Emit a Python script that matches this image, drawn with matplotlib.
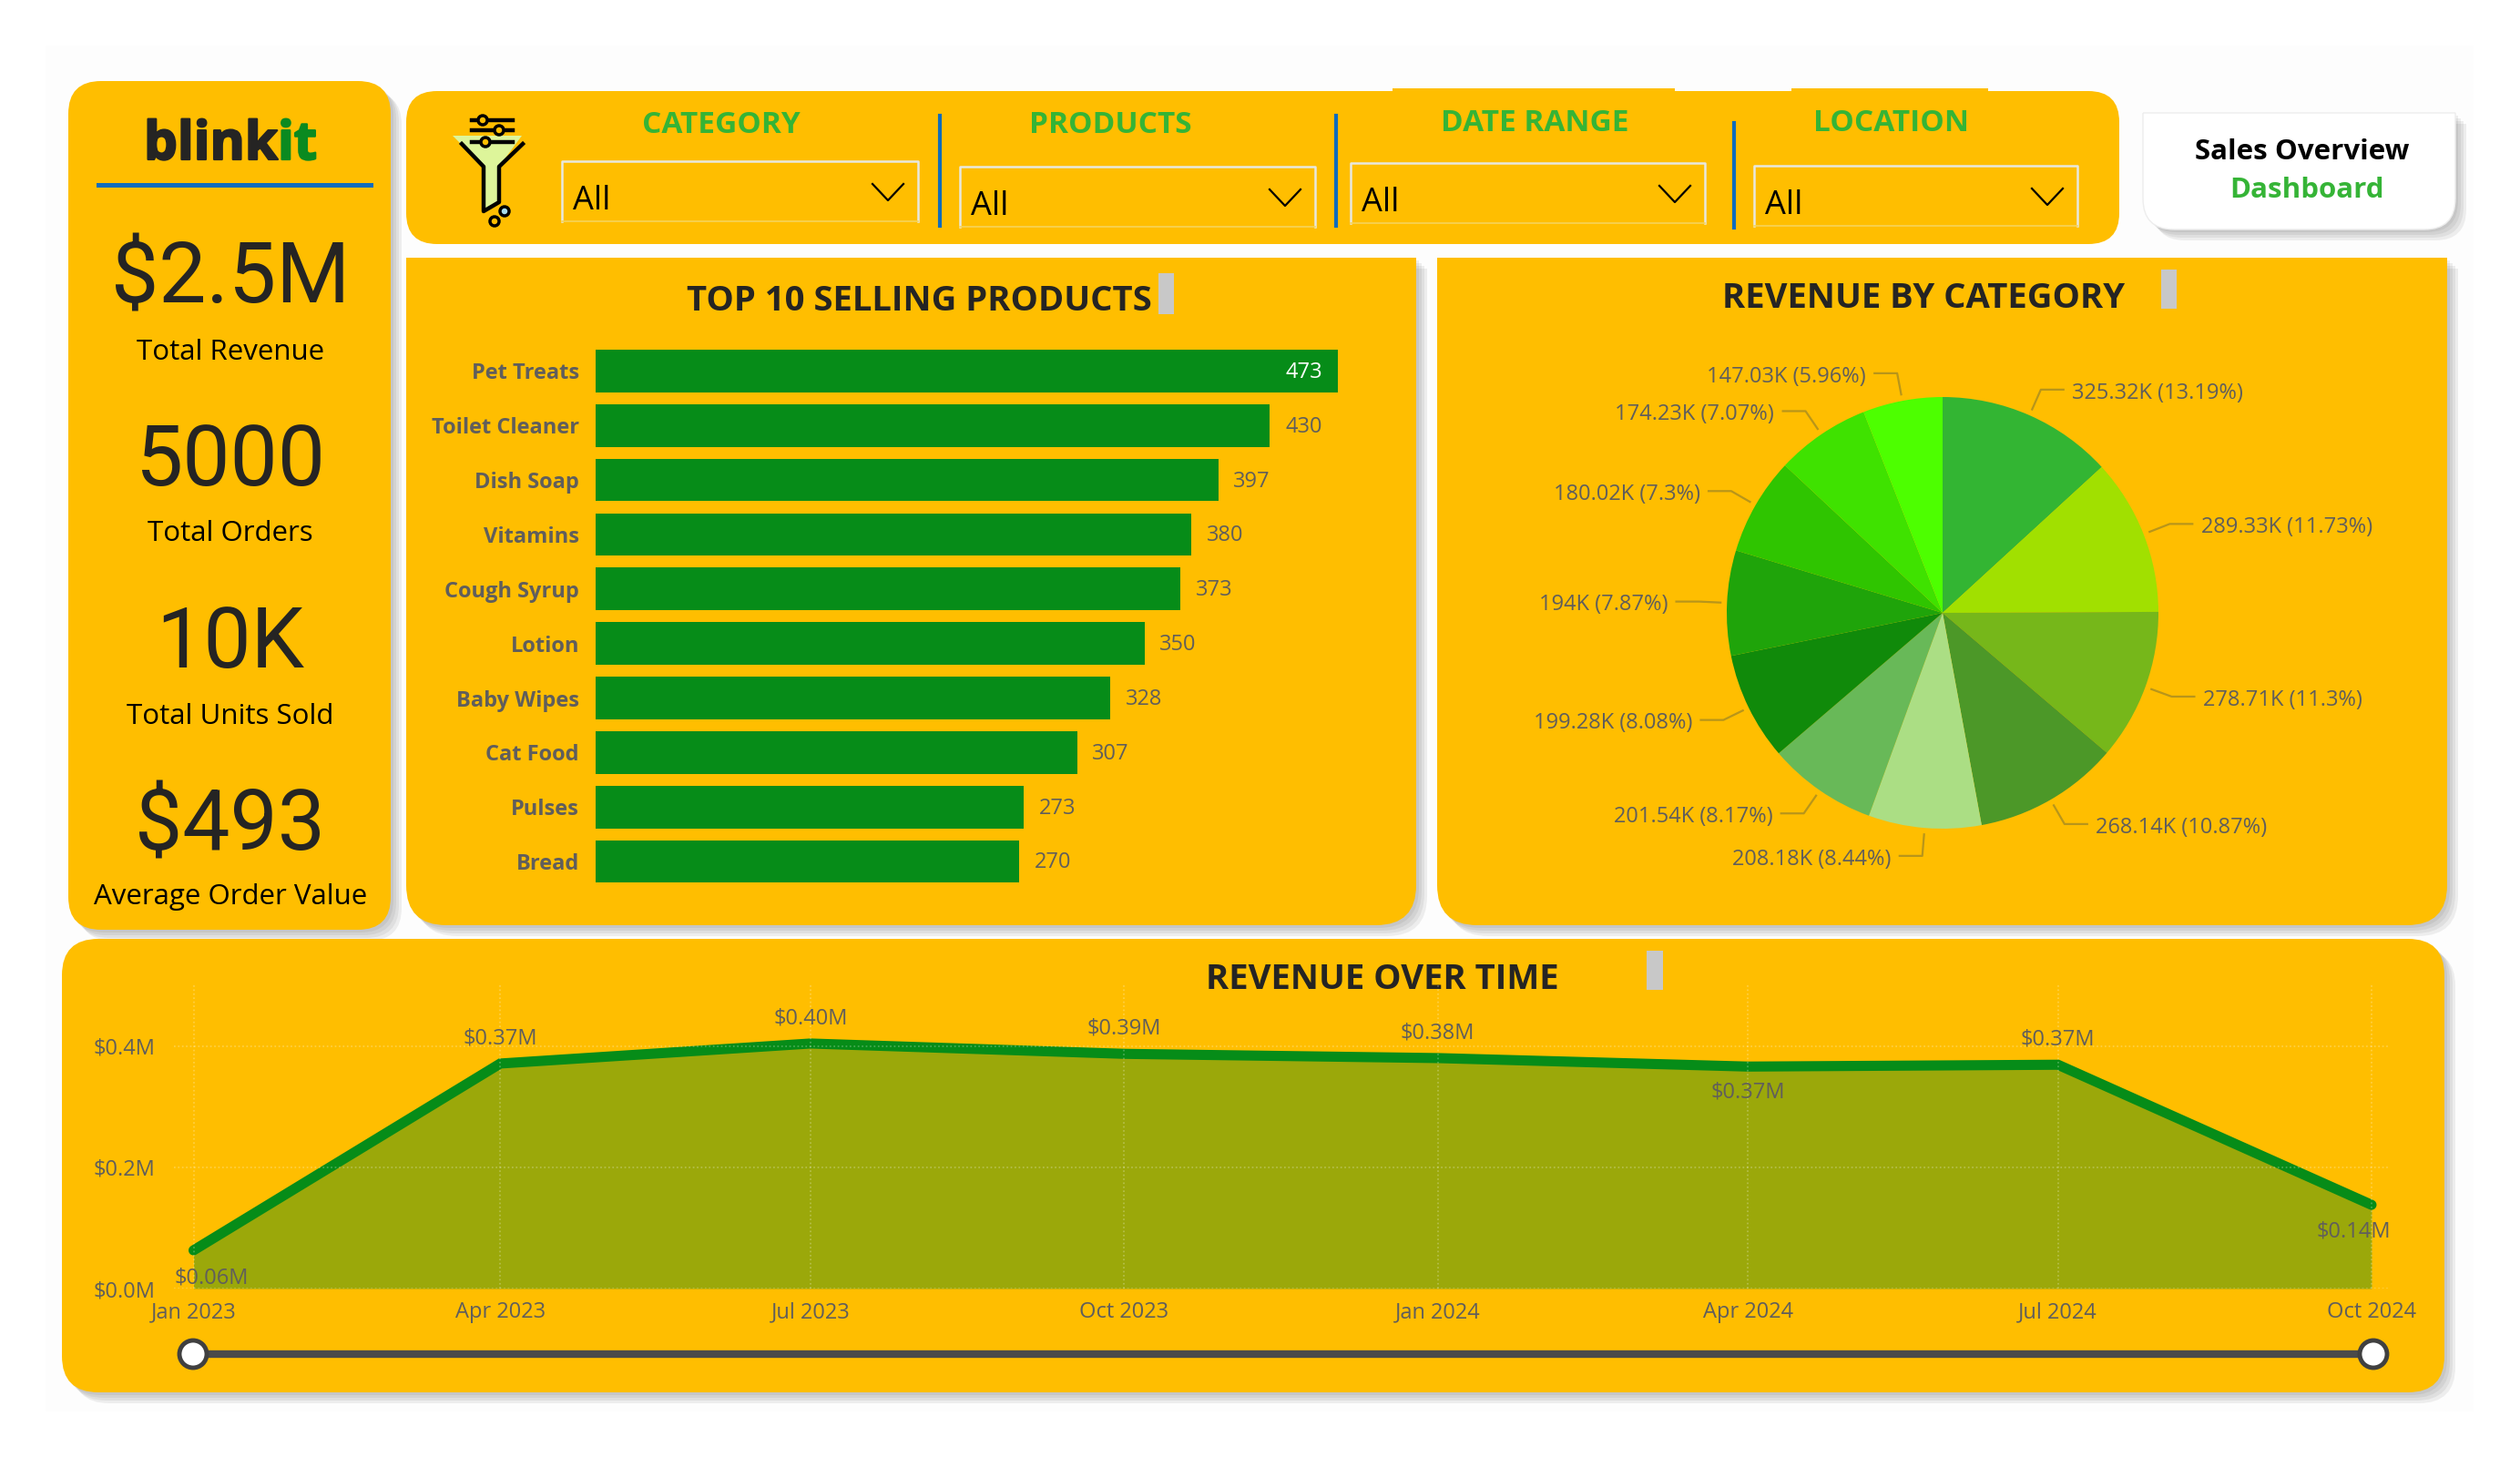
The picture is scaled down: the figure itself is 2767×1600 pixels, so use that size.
import numpy as np
import pandas as pd
import matplotlib
matplotlib.use('Agg')
import matplotlib.pyplot as plt
import matplotlib.dates as mdates
import matplotlib.patheffects as pe
from matplotlib.patches import PathPatch, Rectangle, Polygon, Circle
from matplotlib.path import Path

W, H = 2767, 1600

# chart data
products = ['Pet Treats', 'Toilet Cleaner', 'Dish Soap', 'Vitamins', 'Cough Syrup',
            'Lotion', 'Baby Wipes', 'Cat Food', 'Pulses', 'Bread']
units_sold = [473, 430, 397, 380, 373, 350, 328, 307, 273, 270]

cat_revenue = [325.32, 289.33, 278.71, 268.14, 208.18, 201.54, 199.28, 194, 180.02, 174.23, 147.03]
cat_share = [13.19, 11.73, 11.3, 10.87, 8.44, 8.17, 8.08, 7.87, 7.3, 7.07, 5.96]
cat_colors = ['#33B533', '#A1E000', '#76B71A', '#4C9828', '#ABDE84', '#68B958',
              '#108A0A', '#1FA40A', '#2FC500', '#3FE200', '#4DFF00']

quarters = ['2023-01-01', '2023-04-01', '2023-07-01', '2023-10-01',
            '2024-01-01', '2024-04-01', '2024-07-01', '2024-10-01']
quarter_labels = ['Jan 2023', 'Apr 2023', 'Jul 2023', 'Oct 2023',
                  'Jan 2024', 'Apr 2024', 'Jul 2024', 'Oct 2024']
revenue_m = [0.063, 0.371, 0.404, 0.387, 0.380, 0.366, 0.369, 0.138]
revenue_labels = ['$0.06M', '$0.37M', '$0.40M', '$0.39M', '$0.38M', '$0.37M', '$0.37M', '$0.14M']

kpi_values = ['$2.5M', '5000', '10K', '$493']
kpi_names = ['Total Revenue', 'Total Orders', 'Total Units Sold', 'Average Order Value']
filter_names = ['CATEGORY', 'PRODUCTS', 'DATE RANGE', 'LOCATION']

YELLOW = '#FFBE00'
GREEN = '#068C18'
LIME = '#35B436'
DARK = '#252423'
GREY = '#605E5C'
BLUE = '#0F6CBD'

plt.rcParams['font.family'] = ['Open Sans', 'DejaVu Sans']
fig = plt.figure(figsize=(W / 100, H / 100), dpi=100, facecolor='white')


def px_axes(x0, y0, x1, y1):
    ax = fig.add_axes([x0 / W, 1 - y1 / H, (x1 - x0) / W, (y1 - y0) / H])
    ax.patch.set_alpha(0)
    return ax


def round_box(x0, y0, x1, y1, tl, tr, br, bl):
    verts = [(x0 + tl, y0), (x1 - tr, y0), (x1, y0), (x1, y0 + tr), (x1, y1 - br), (x1, y1),
             (x1 - br, y1), (x0 + bl, y1), (x0, y1), (x0, y1 - bl), (x0, y0 + tl), (x0, y0), (x0 + tl, y0)]
    codes = [Path.MOVETO, Path.LINETO, Path.CURVE3, Path.CURVE3, Path.LINETO, Path.CURVE3, Path.CURVE3,
             Path.LINETO, Path.CURVE3, Path.CURVE3, Path.LINETO, Path.CURVE3, Path.CURVE3]
    return Path(verts, codes)


def panel(x0, y0, x1, y1, radii, color=YELLOW, shadow=True, edge='none'):
    if shadow:
        for d in [12, 9, 6, 3]:
            bg.add_patch(PathPatch(round_box(x0 + d, y0 + d, x1 + d, y1 + d, *radii), fc='#555555',
                                   ec='none', alpha=0.09))
    bg.add_patch(PathPatch(round_box(x0, y0, x1, y1, *radii), fc=color, ec=edge, lw=1))


bg = fig.add_axes([0, 0, 1, 1])
bg.set_xlim(0, W)
bg.set_ylim(H, 0)
bg.axis('off')
bg.add_patch(Rectangle((50, 50), 2666, 1500, fc='#FDFDFD', ec='none'))

# panels
panel(75, 89, 429, 1021, (36, 36, 36, 36))
panel(446, 100, 2327, 268, (34, 34, 34, 34), shadow=False)
bg.add_patch(Rectangle((1529, 97), 310, 5, fc=YELLOW, ec='none'))
bg.add_patch(Rectangle((1967, 97), 216, 5, fc=YELLOW, ec='none'))
panel(446, 283, 1555, 1016, (0, 0, 44, 44))
panel(1578, 283, 2687, 1016, (0, 0, 44, 44))
panel(2353, 124, 2696, 252, (0, 0, 34, 34), color='white', edge='#EDEDED')
panel(68, 1031, 2684, 1529, (40, 40, 40, 40))

# logo and kpi column
logo_fx = [pe.withStroke(linewidth=1.6, foreground=DARK)]
bg.text(305, 160, 'blink', ha='right', va='center', fontsize=42, fontweight='bold', color=DARK,
        path_effects=logo_fx)
bg.text(305, 160, 'it', ha='left', va='center', fontsize=42, fontweight='bold', color='#0A8A20',
        path_effects=[pe.withStroke(linewidth=1.6, foreground='#0A8A20')])
bg.add_patch(Rectangle((106, 201), 304, 5, fc=BLUE, ec='none'))

for val, name, yv, yn in zip(kpi_values, kpi_names, [307, 508, 708, 908], [387, 586, 787, 985]):
    bg.text(253, yv, val, ha='center', va='center', fontsize=67, color=DARK, family='Roboto')
    bg.text(253, yn, name, ha='center', va='center', fontsize=22.5, color='black')

# filter bar
for x, y, name in zip([792, 1219, 1685, 2076], [138, 138, 136, 136], filter_names):
    bg.text(x, y, name, ha='center', va='center', fontsize=24, fontweight='bold', color=LIME)

for x0, x1, y0, y1 in [(617, 1008, 177, 243), (1054, 1444, 183, 249), (1483, 1872, 179, 245), (1926, 2281, 182, 248)]:
    bg.plot([x0, x0, x1, x1], [y1, y0, y0, y1], color='#E8E8E0', lw=1.8)
    bg.plot([x0, x1], [y1, y1], color='#F6D35A', lw=1.2)
    bg.text(x0 + 12, y0 + 44, 'All', ha='left', va='center', fontsize=26, color='black')
    bg.plot([x1 - 50, x1 - 33, x1 - 16], [y0 + 25, y0 + 43, y0 + 25], color='black', lw=1.6)

for x, y0, y1 in [(1032, 127, 248), (1467, 127, 248), (1904, 135, 250)]:
    bg.plot([x, x], [y0, y1], color=BLUE, lw=3)

# filter icon
bg.add_patch(Polygon([(497, 149), (573, 149), (548, 183), (548, 222), (531, 232), (531, 183)],
                     fc='#DDF59A', ec='none'))
bg.plot([507, 531, 531, 548, 548, 574], [158, 183, 232, 222, 183, 158], color='black', lw=3.2)
for y, cx in zip([132, 143, 156], [530, 548, 533]):
    bg.plot([518, 563], [y, y], color='black', lw=3.2)
    bg.add_patch(Circle((cx, y), 5, fc=YELLOW, ec='black', lw=2.5, zorder=3))
bg.add_patch(Circle((554, 232), 5, fc='#A8DCEB', ec='black', lw=2.5))
bg.add_patch(Circle((543, 243), 5, fc=YELLOW, ec='black', lw=2.5))

# sales overview card
bg.text(2528, 167, 'Sales Overview', ha='center', va='center', fontsize=22.5, fontweight='bold', color='black')
bg.text(2533, 209, 'Dashboard', ha='center', va='center', fontsize=22.5, fontweight='bold', color=LIME)

# titles and the little grey tabs
bg.text(1009, 331, 'TOP 10 SELLING PRODUCTS', ha='center', va='center', fontsize=27.5, fontweight='bold', color=DARK)
bg.text(2112, 328, 'REVENUE BY CATEGORY', ha='center', va='center', fontsize=27.5, fontweight='bold', color=DARK)
bg.text(1518, 1076, 'REVENUE OVER TIME', ha='center', va='center', fontsize=27.5, fontweight='bold', color=DARK)
for x0, y0, x1, y1 in [(1272, 300, 1289, 345), (2373, 296, 2390, 339), (1808, 1044, 1826, 1087)]:
    bg.add_patch(Rectangle((x0, y0), x1 - x0, y1 - y0, fc='#C8C8C8', ec='none'))

# slider under the line chart
bg.plot([212, 2606], [1487, 1487], color='#4A4A4A', lw=6, solid_capstyle='butt')
for x in [212, 2606]:
    bg.add_patch(Circle((x, 1487), 15, fc='white', ec='#404040', lw=3.5, zorder=3))

# bars
ax = px_axes(654, 377.5, 1515, 976)
ax.barh(products, units_sold, height=0.78, color=GREEN)
ax.set_xlim(0, 500)
ax.set_ylim(9.5, -0.5)
ax.set_xticks([])
ax.tick_params(axis='y', length=0, pad=13)
for lab in ax.get_yticklabels():
    lab.set_fontsize(17)
    lab.set_fontweight('bold')
    lab.set_color(GREY)
for s in ax.spines.values():
    s.set_visible(False)
for i, v in enumerate(units_sold):
    if i == 0:
        ax.annotate(str(v), (v, i), xytext=(-12, -1), textcoords='offset points', ha='right', va='center',
                    fontsize=17, color='white')
    else:
        ax.annotate(str(v), (v, i), xytext=(12, -1), textcoords='offset points', ha='left', va='center',
                    fontsize=17, color=GREY)

# pie
cx, cy, r = 2133, 673, 237
ax = px_axes(cx - 1.6 * r, cy - 1.6 * r, cx + 1.6 * r, cy + 1.6 * r)
wedges, _ = ax.pie(cat_revenue, colors=cat_colors, startangle=90, counterclock=False, radius=1,
                   wedgeprops={'linewidth': 0})
ax.set_xlim(-1.6, 1.6)
ax.set_ylim(-1.6, 1.6)
for w, val, pct in zip(wedges, cat_revenue, cat_share):
    ang = np.deg2rad((w.theta1 + w.theta2) / 2)
    ux, uy = np.cos(ang), np.sin(ang)
    side = 1 if ux >= 0 else -1
    ex, ey = 1.13 * ux, 1.13 * uy
    ax.plot([1.03 * ux, ex, ex + side * 0.105], [1.03 * uy, ey, ey], color='#B8951A', lw=1.6, clip_on=False)
    lab = f'{val:g}K ({pct:g}%)'
    ax.text(ex + side * 0.145, ey - 0.016, lab, ha='left' if side > 0 else 'right', va='center',
            fontsize=17, color=GREY, clip_on=False)

# area line
dates = pd.to_datetime(quarters)
xs = mdates.date2num(dates)
ax = px_axes(191, 1082, 2622, 1415)
ax.set_ylim(0, 0.5)
px_day = (2604 - 212.5) / (xs[-1] - xs[0])
ax.set_xlim(xs[0] - (212.5 - 191) / px_day, xs[-1] + (2622 - 2604) / px_day)
ax.fill_between(xs, revenue_m, 0, color='#9BA80A', lw=0)
ax.plot(xs, revenue_m, color=GREEN, lw=8, solid_capstyle='round', solid_joinstyle='miter', clip_on=False)
ax.set_xticks(xs)
ax.set_xticklabels(quarter_labels, fontsize=17, color=GREY)
ax.set_yticks([0, 0.2, 0.4])
ax.set_yticklabels(['$0.0M', '$0.2M', '$0.4M'], fontsize=17, color=GREY)
ax.tick_params(length=0)
ax.tick_params(axis='x', pad=10)
ax.tick_params(axis='y', pad=15)
ax.grid(True, linestyle=':', color='white', alpha=0.28, lw=1.2)
ax.set_axisbelow(False)
for s in ax.spines.values():
    s.set_visible(False)
label_dy = [-22, 20, 20, 20, 20, -20, 20, -21]
label_dx = [14, 0, 0, 0, 0, 0, 0, -14]
for x, v, lab, dx, dy in zip(xs, revenue_m, revenue_labels, label_dx, label_dy):
    ax.annotate(lab, (x, v), xytext=(dx, dy), textcoords='offset points', ha='center', va='center',
                fontsize=17, color=GREY, annotation_clip=False)

fig.savefig('out.png', dpi=100)
